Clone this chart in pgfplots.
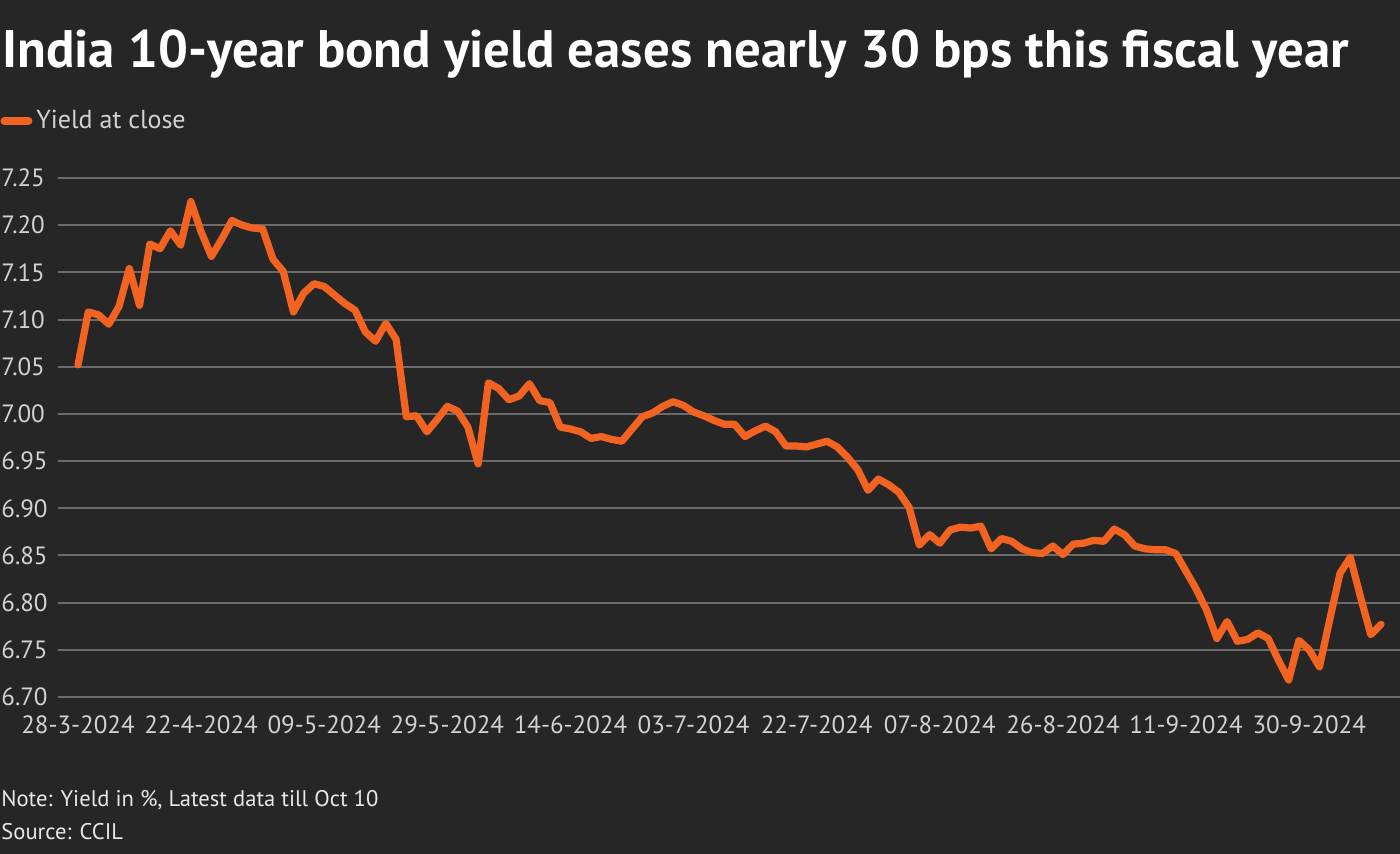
\documentclass[border=0pt]{standalone}
\usepackage{fontspec}
\setmainfont{PT Sans}
\usepackage{pgfplots}
\pgfplotsset{compat=1.18}

\definecolor{bg}{HTML}{262626}
\definecolor{yieldline}{HTML}{F26321}
\definecolor{gridc}{HTML}{6B6B6B}
\definecolor{ticktext}{HTML}{D2D2D2}
\definecolor{notetext}{HTML}{E8E8E8}

\begin{document}
\begin{tikzpicture}
\fill[bg] (0,0) rectangle (700pt,427pt);
\path[use as bounding box] (0,0) rectangle (700pt,427pt);

\begin{axis}[
  at={(29pt,78.5pt)}, anchor=south west,
  scale only axis, width=671pt, height=259.5pt,
  xmin=-1.95, xmax=128.85,
  ymin=6.70, ymax=7.25,
  axis line style={draw=none},
  major tick length=0pt,
  ymajorgrids, grid style={gridc, line width=1pt},
  ytick={6.70,6.75,...,7.26},
  yticklabel style={anchor=west, xshift=-28.5pt, inner sep=0pt,
    font=\fontsize{12.5pt}{14pt}\selectfont, text=ticktext,
    /pgf/number format/.cd, fixed, fixed zerofill, precision=2, assume math mode=true},
  xtick={0,12,...,120},
  xticklabels={28-3-2024,22-4-2024,09-5-2024,29-5-2024,14-6-2024,03-7-2024,
    22-7-2024,07-8-2024,26-8-2024,11-9-2024,30-9-2024},
  xticklabel style={anchor=center, yshift=-14pt, inner sep=0pt,
    font=\fontsize{12.5pt}{14pt}\selectfont, text=ticktext},
  legend style={at={(-0.0432,1.11)}, anchor=west, draw=none, fill=none,
    inner sep=0pt, text=ticktext, font=\fontsize{13pt}{15pt}\selectfont,
    legend cell align=left},
  legend image code/.code={\draw[yieldline, line width=4pt, line cap=round] (1pt,0pt) -- (13pt,0pt);},
]
\addplot[yieldline, line width=3.6pt, line join=round, line cap=round] coordinates {
(0,7.052) (1,7.108) (2,7.105) (3,7.095) (4,7.114) (5,7.154) (6,7.115) (7,7.180)
(8,7.175) (9,7.194) (10,7.179) (11,7.225) (12,7.193) (13,7.167) (14,7.185) (15,7.205)
(16,7.200) (17,7.197) (18,7.196) (19,7.164) (20,7.151) (21,7.108) (22,7.128) (23,7.138)
(24,7.135) (25,7.126) (26,7.117) (27,7.110) (28,7.087) (29,7.077) (30,7.096) (31,7.079)
(32,6.997) (33,6.998) (34,6.981) (35,6.994) (36,7.008) (37,7.003) (38,6.986) (39,6.947)
(40,7.033) (41,7.027) (42,7.015) (43,7.019) (44,7.032) (45,7.014) (46,7.012) (47,6.986)
(48,6.984) (49,6.981) (50,6.974) (51,6.976) (52,6.973) (53,6.971) (54,6.984) (55,6.997)
(56,7.001) (57,7.008) (58,7.013) (59,7.009) (60,7.002) (61,6.998) (62,6.993) (63,6.989)
(64,6.989) (65,6.976) (66,6.982) (67,6.987) (68,6.981) (69,6.966) (70,6.966) (71,6.965)
(72,6.968) (73,6.971) (74,6.965) (75,6.954) (76,6.941) (77,6.919) (78,6.931) (79,6.925)
(80,6.917) (81,6.901) (82,6.861) (83,6.872) (84,6.863) (85,6.877) (86,6.880) (87,6.879)
(88,6.881) (89,6.857) (90,6.868) (91,6.865) (92,6.857) (93,6.853) (94,6.852) (95,6.860)
(96,6.851) (97,6.862) (98,6.863) (99,6.866) (100,6.865) (101,6.878) (102,6.872) (103,6.860)
(104,6.857) (105,6.856) (106,6.856) (107,6.852) (108,6.833) (109,6.814) (110,6.792) (111,6.762)
(112,6.780) (113,6.759) (114,6.761) (115,6.768) (116,6.762) (117,6.739) (118,6.718) (119,6.760)
(120,6.750) (121,6.732) (122,6.782) (123,6.831) (124,6.848) (125,6.806) (126,6.766) (127,6.777)
};
\addlegendentry{Yield at close}
\end{axis}

\node[anchor=base west, inner sep=0pt, text=white, font=\fontsize{26.4pt}{31pt}\selectfont\bfseries]
  at (1pt,393pt) {India 10-year bond yield eases nearly 30 bps this fiscal year};
\node[anchor=base west, inner sep=0pt, text=notetext, font=\fontsize{11.3pt}{13pt}\selectfont]
  at (0.5pt,23.5pt) {Note: Yield in \%, Latest data till Oct 10};
\node[anchor=base west, inner sep=0pt, text=notetext, font=\fontsize{11.3pt}{13pt}\selectfont]
  at (0.5pt,7pt) {Source: CCIL};
\end{tikzpicture}
\end{document}
